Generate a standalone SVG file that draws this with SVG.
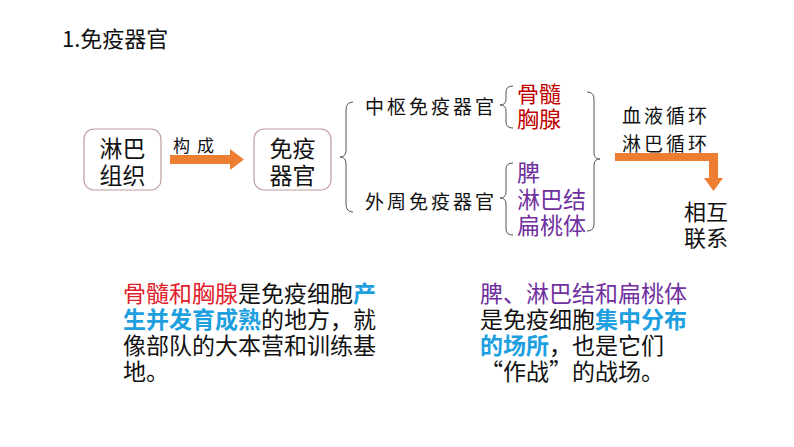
<svg xmlns="http://www.w3.org/2000/svg" width="794" height="447" viewBox="0 0 794 447">
<style>
text{font-family:"Noto Sans CJK SC","Liberation Sans",sans-serif;fill:#111}
.node{fill:#fff;stroke:#c09a9a;stroke-width:1.2}
.big{font-size:23px}
.lab{font-size:19px;letter-spacing:3px}
.brace{fill:none;stroke:#555;stroke-width:1}
.arrow{fill:#ed7d31}
.red{fill:#c00000}
.red2{fill:#e0202a}
.pur{fill:#7030a0}
.cyan{fill:#1e9fdf;font-weight:bold}
.para{font-size:23px}
</style>
<rect width="794" height="447" fill="#fff"/>
<text x="62" y="47" font-size="22">1.免疫器官</text>

<g id="node-linba">
<rect class="node" x="84" y="129" width="77" height="61" rx="10"/>
<text class="big" x="122.5" y="157" text-anchor="middle">淋巴</text>
<text class="big" x="122.5" y="184" text-anchor="middle">组织</text>
</g>
<g id="node-mianyi">
<rect class="node" x="254" y="129" width="77" height="61" rx="10"/>
<text class="big" x="292.5" y="157" text-anchor="middle">免疫</text>
<text class="big" x="292.5" y="184" text-anchor="middle">器官</text>
</g>

<g id="connectors">
<rect class="arrow" x="170" y="155" width="62" height="9"/>
<polygon class="arrow" points="230,149 244,159.5 230,170"/>
<text x="173" y="152" font-size="17" letter-spacing="7">构成</text>
<path class="brace" d="M353,102 Q346,102 346,110 L346,150 Q346,157 340,157 Q346,157 346,164 L346,204 Q346,212 353,212"/>
<path class="brace" d="M513,86 Q506,86 506,92 L506,99 Q506,105 500,105 Q506,105 506,111 L506,122 Q506,128 513,128"/>
<path class="brace" d="M513,163 Q506,163 506,169 L506,192 Q506,198 500,198 Q506,198 506,204 L506,229 Q506,235 513,235"/>
<path class="brace" d="M587,92 Q594,92 594,99 L594,153 Q594,159 600,159 Q594,159 594,165 L594,224 Q594,231 587,231"/>
<path class="arrow" d="M615,153 L718,153 L718,178 L723,178 L713.5,191 L704,178 L709,178 L709,161 L615,161 Z"/>
</g>

<g id="node-zhongshu">
<text class="lab" x="365" y="114">中枢免疫器官</text>
</g>
<g id="node-waizhou">
<text class="lab" x="365" y="209">外周免疫器官</text>
</g>
<g id="node-central-organs">
<text class="red" x="517" y="102" font-size="22">骨髓</text>
<text class="red" x="517" y="127" font-size="22">胸腺</text>
</g>
<g id="node-peripheral-organs">
<text class="pur" x="517" y="181" font-size="23">脾</text>
<text class="pur" x="517" y="208" font-size="23">淋巴结</text>
<text class="pur" x="517" y="234" font-size="23">扁桃体</text>
</g>
<g id="node-circulation">
<text class="lab" x="622" y="123" letter-spacing="4">血液循环</text>
<text class="lab" x="622" y="151" letter-spacing="4">淋巴循环</text>
</g>
<g id="node-xianghu">
<text x="706" y="220" font-size="22" text-anchor="middle">相互</text>
<text x="706" y="246" font-size="22" text-anchor="middle">联系</text>
</g>

<g id="para-left" class="para">
<text x="123" y="302"><tspan class="red2">骨髓和胸腺</tspan>是免疫细胞<tspan class="cyan">产</tspan></text>
<text x="123" y="328"><tspan class="cyan">生并发育成熟</tspan>的地方，就</text>
<text x="123" y="354">像部队的大本营和训练基</text>
<text x="123" y="380">地。</text>
</g>
<g id="para-right" class="para">
<text x="480" y="302" class="pur">脾、淋巴结和扁桃体</text>
<text x="480" y="328">是免疫细胞<tspan class="cyan">集中分布</tspan></text>
<text x="480" y="354"><tspan class="cyan">的场所</tspan>，也是它们</text>
<text x="480" y="380">“作战”的战场。</text>
</g>
</svg>
